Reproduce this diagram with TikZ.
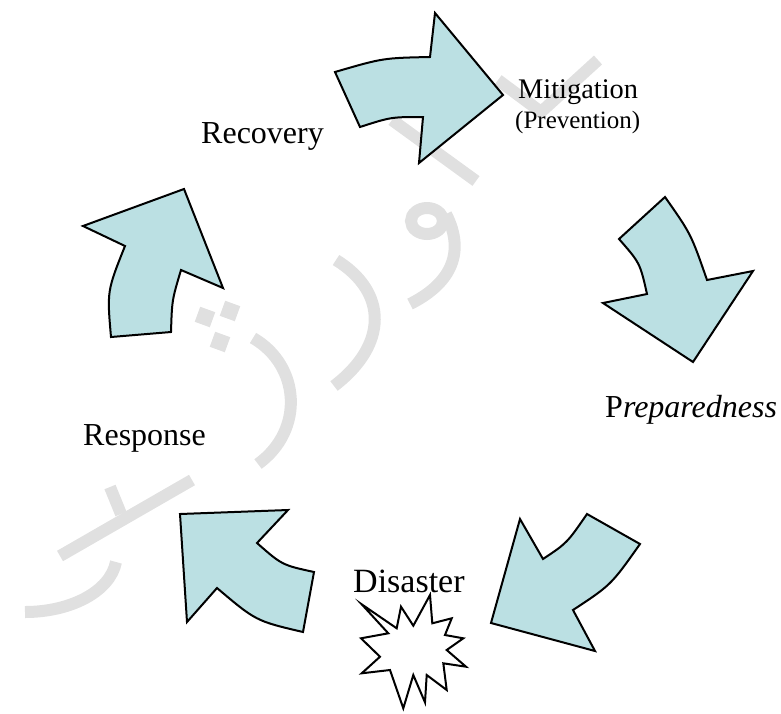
\documentclass[tikz,border=0pt]{standalone}
\usepackage{fontspec}
\setmainfont{Liberation Serif}
\definecolor{arrowfill}{RGB}{187,224,227}
\definecolor{wmark}{RGB}{224,224,224}
\begin{document}
\begin{tikzpicture}[x=1pt,y=-1pt,
  cyclearrow/.style={draw=black,fill=arrowfill,line width=2pt,line join=miter},
  burst/.style={draw=black,fill=white,line width=2pt,line join=miter},
  wm/.style={draw=wmark,line width=12pt,line cap=butt},
  wmdot/.style={fill=wmark},
  lbl/.style={anchor=base west,inner sep=0pt,font=\fontsize{32}{38}\selectfont}]
\useasboundingbox (0,0) rectangle (781,713);

% watermark
\draw[wm] (392,120) -- (476,181);
\draw[wm,line join=round] (498,80) -- (541,112) -- (598,60);
\draw[wm] (427,221) ellipse [x radius=16, y radius=13];
\draw[wm] (446,214) .. controls (467,255) and (448,285) .. (410,304);
\draw[wm] (336,260) .. controls (388,292) and (388,345) .. (334,386);
\draw[wm] (253,338) .. controls (300,365) and (305,430) .. (258,464);
\fill[wmdot,rotate around={-20:(205,317)}] (197,309) rectangle (213,325);
\fill[wmdot,rotate around={-20:(230,311)}] (222,303) rectangle (238,319);
\fill[wmdot,rotate around={-20:(220,342)}] (212,334) rectangle (228,350);
\draw[wm] (192,480) -- (60,556);
\draw[wm] (110,487) -- (121,514);
\draw[wm] (25,612) .. controls (70,612) and (110,592) .. (116,562);

% arrows
\draw[cyclearrow] (335,72) .. controls (383,58) .. (430,57) -- (435,13) -- (503,95)
  -- (419,163) -- (423,117) .. controls (391,117) .. (360,127) -- cycle;
\draw[cyclearrow] (665,197) .. controls (691,234) .. (707,280) -- (753,271) -- (693,362)
  -- (603,303) -- (647,294) .. controls (640,263) .. (619,239) -- cycle;
\draw[cyclearrow] (640,544) .. controls (611,585) .. (573,610) -- (595,651) -- (491,623)
  -- (520,519) -- (543,559) .. controls (567,543) .. (587,514) -- cycle;
\draw[cyclearrow] (314,572) -- (303,632) .. controls (256,621) .. (217,588) -- (187,622)
  -- (180,514) -- (288,510) -- (257,543) .. controls (282,565) .. cycle;
\draw[cyclearrow] (184,189) -- (83,226) -- (125,246) .. controls (107,291) .. (111,337)
  -- (171,332) .. controls (172,300) .. (181,270) -- (223,288) -- cycle;

% starburst
\draw[burst] (361.7,604.3) -- (396.7,628.3) -- (401,606.7) -- (413.3,625.7) -- (430,595)
  -- (432.3,623.3) -- (451.7,618.3) -- (445,635) -- (463.3,638.3) -- (446.7,650)
  -- (466,666.7) -- (443.3,663.3) -- (446.7,690) -- (426.7,675) -- (425,702.3)
  -- (413.3,675) -- (403.3,708.3) -- (390,670) -- (361.7,673.3) -- (380,656.7)
  -- (361,638.3) -- (388.3,633.3) -- cycle;

% labels
\node[lbl] (recovery) at (201,143) {Recovery};
\node[lbl,font=\fontsize{28.4}{34}\selectfont] (mitigation) at (518,98) {Mitigation};
\node[lbl,font=\fontsize{25}{30}\selectfont] (prevention) at (515,128) {(Prevention)};
\node[lbl] (preparedness) at (605,417) {P\textit{reparedness}};
\node[lbl] (response) at (83,445) {Response};
\node[lbl,font=\fontsize{34}{40}\selectfont] (disaster) at (353,592) {Disaster};
\end{tikzpicture}
\end{document}
